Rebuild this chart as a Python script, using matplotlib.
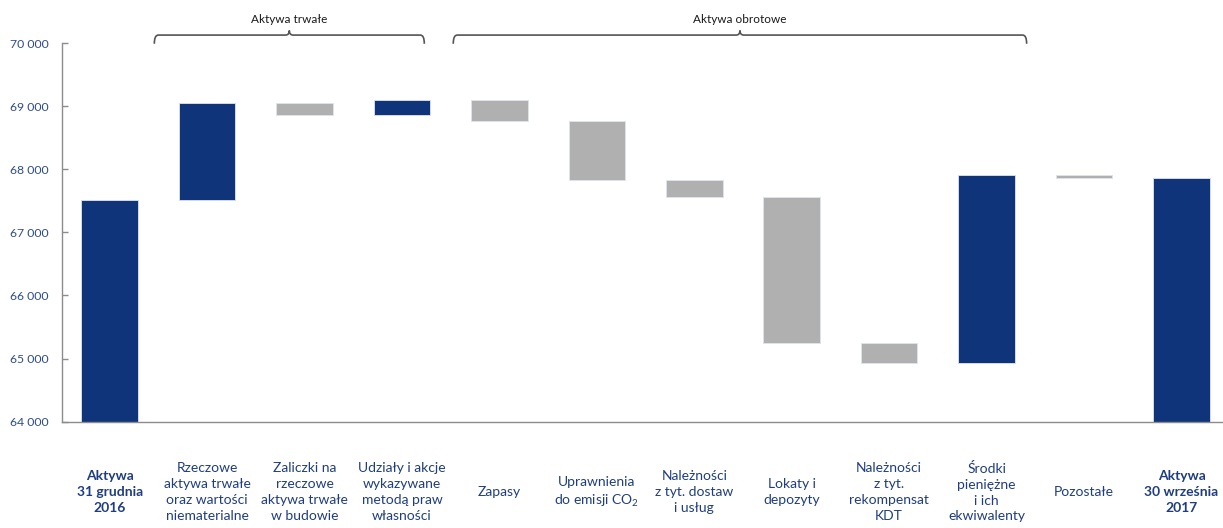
import matplotlib

matplotlib.use("Agg")
import matplotlib.pyplot as plt
import numpy as np
from matplotlib.patches import PathPatch
from matplotlib.path import Path

plt.rcParams["font.family"] = ["Lato", "DejaVu Sans"]
plt.rcParams["mathtext.fontset"] = "custom"
plt.rcParams["mathtext.rm"] = "Lato"

# waterfall of assets (mln zł): opening balance, changes, closing balance
CATEGORIES = [
    "Aktywa\n31 grudnia\n2016",
    "Rzeczowe\naktywa trwałe\noraz wartości\nniematerialne",
    "Zaliczki na\nrzeczowe\naktywa trwałe\nw budowie",
    "Udziały i akcje\nwykazywane\nmetodą praw\nwłasności",
    "Zapasy",
    "Uprawnienia\ndo emisji CO$_2$",
    "Należności\nz tyt. dostaw\ni usług",
    "Lokaty i\ndepozyty",
    "Należności\nz tyt.\nrekompensat\nKDT",
    "Środki\npieniężne\ni ich\nekwiwalenty",
    "Pozostałe",
    "Aktywa\n30 września\n2017",
]
START_VALUE = 67510
CHANGES = [1535, -190, 250, -340, -935, -270, -2310, -320, 2975, -40]

Y_TICKS = [64000, 65000, 66000, 67000, 68000, 69000, 70000]

GROUPS = [
    ("Aktywa trwałe", 0.458, 3.229),
    ("Aktywa obrotowe", 3.526, 9.411),
]

BLUE = "#0f347a"
GREY = "#b0b0b0"
LABEL_BLUE = "#1f3d80"
TICK_BLUE = "#2e4c8c"

# bar bottoms / tops
running = START_VALUE + np.concatenate([[0], np.cumsum(CHANGES)])
end_value = running[-1]
bottoms = [0.0]
heights = [float(START_VALUE)]
colors = [BLUE]
for i, d in enumerate(CHANGES):
    lo, hi = sorted([running[i], running[i + 1]])
    bottoms.append(lo)
    heights.append(hi - lo)
    colors.append(BLUE if d > 0 else GREY)
bottoms.append(0.0)
heights.append(float(end_value))
colors.append(BLUE)

fig = plt.figure(figsize=(12.23, 5.28), dpi=100)
ax = fig.add_axes([0.0509, 0.2013, 0.949, 0.7172])

x = np.arange(len(CATEGORIES))
ax.bar(x, heights, bottom=bottoms, width=0.58, color=colors,
       edgecolor="#dfe4ee", linewidth=0.6)

ax.set_xlim(-0.487, 11.425)
ax.set_ylim(64000, 70000)
ax.set_yticks(Y_TICKS)
ax.set_yticklabels([f"{v:,}".replace(",", " ") for v in Y_TICKS])
ax.tick_params(axis="y", direction="in", length=4, width=1, color="#8c8c8c",
               pad=10, labelsize=8.8, labelcolor=TICK_BLUE)
ax.set_xticks([])

for side in ["top", "right"]:
    ax.spines[side].set_visible(False)
for side in ["left", "bottom"]:
    ax.spines[side].set_color("#8c8c8c")
    ax.spines[side].set_linewidth(1.0)

# category labels under the axis
xtr = ax.get_xaxis_transform()
for i, label in enumerate(CATEGORIES):
    bold = i in (0, len(CATEGORIES) - 1)
    ax.text(i, -0.186, label, transform=xtr, ha="center", va="center",
            multialignment="center", fontsize=10, color=LABEL_BLUE,
            fontweight="bold" if bold else "normal", linespacing=1.38)


def brace(x0, x1, y_line=1.021, y_end=0.998, y_tip=1.033, dx=0.04):
    xc = (x0 + x1) / 2
    verts = [
        (x0, y_end), (x0, y_line), (x0 + dx, y_line),
        (xc - dx, y_line), (xc, y_line), (xc, y_tip),
        (xc, y_line), (xc + dx, y_line),
        (x1 - dx, y_line), (x1, y_line), (x1, y_end),
    ]
    codes = [
        Path.MOVETO, Path.CURVE3, Path.CURVE3,
        Path.LINETO, Path.CURVE3, Path.CURVE3,
        Path.CURVE3, Path.CURVE3,
        Path.LINETO, Path.CURVE3, Path.CURVE3,
    ]
    patch = PathPatch(Path(verts, codes), transform=xtr, fill=False,
                      edgecolor="#555555", linewidth=1.2, clip_on=False)
    ax.add_patch(patch)
    return xc


for name, x0, x1 in GROUPS:
    xc = brace(x0, x1)
    ax.text(xc, 1.062, name, transform=xtr, ha="center", va="center",
            fontsize=8.5, color="#1a1a1a")

fig.savefig("out.png", dpi=100)
